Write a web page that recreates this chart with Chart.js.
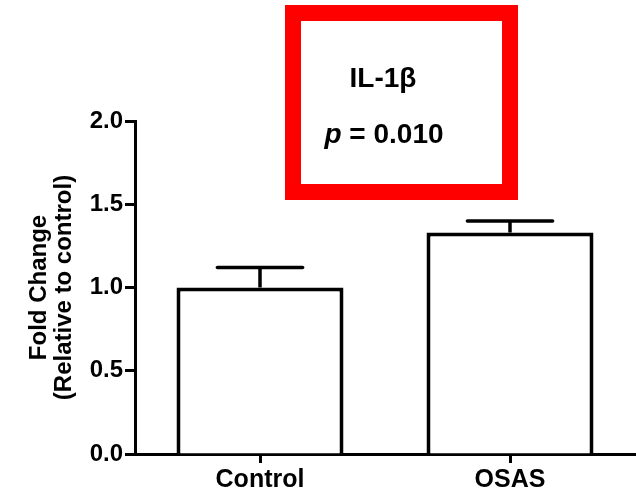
<!DOCTYPE html>
<html>
<head>
<meta charset="utf-8">
<style>
  html, body { margin: 0; padding: 0; background: #fff; }
  #wrap { width: 636px; height: 496px; }
</style>
<script src="https://cdn.jsdelivr.net/npm/chart.js"></script>
</head>
<body>
<div id="wrap"><canvas id="chart-il1b" width="636" height="496"></canvas></div>
<script>
const groups = ["Control", "OSAS"];
const foldChange = [1.00, 1.33];
const semUpper = [0.12, 0.07];
const yTicks = [0, 0.5, 1.0, 1.5, 2.0];
const markerName = "IL-1β";
const pValue = "0.010";

const FONT = "Arial, 'Liberation Sans', sans-serif";

// upward-only SEM whiskers on top of each bar
const errorBars = {
  id: "errorBars",
  afterDatasetsDraw(chart) {
    const { ctx, scales } = chart;
    const meta = chart.getDatasetMeta(0);
    ctx.save();
    ctx.strokeStyle = "#000";
    ctx.lineWidth = 3.5;
    meta.data.forEach((bar, i) => {
      const x = bar.x;
      const yTop = scales.y.getPixelForValue(foldChange[i]);
      const yErr = scales.y.getPixelForValue(foldChange[i] + semUpper[i]);
      const half = bar.width * 0.255;
      ctx.lineCap = "butt";
      ctx.beginPath();
      ctx.moveTo(x, yTop);
      ctx.lineTo(x, yErr);
      ctx.stroke();
      ctx.lineCap = "round";
      ctx.beginPath();
      ctx.moveTo(x - half, yErr);
      ctx.lineTo(x + half, yErr);
      ctx.stroke();
    });
    ctx.restore();
  }
};

// red framed label with the marker name and p value
const statBox = {
  id: "statBox",
  afterDraw(chart) {
    const { ctx } = chart;
    const bold = "bold 28px " + FONT;
    const italic = "italic bold 28px " + FONT;
    ctx.save();
    ctx.strokeStyle = "#ff0000";
    ctx.lineWidth = 16;
    ctx.strokeRect(293, 13, 217, 179);
    ctx.fillStyle = "#000";
    ctx.textBaseline = "alphabetic";
    ctx.textAlign = "center";
    ctx.font = bold;
    ctx.fillText(markerName, 383, 87);

    const rest = " = " + pValue;
    ctx.font = italic;
    const pW = ctx.measureText("p").width;
    ctx.font = bold;
    const rW = ctx.measureText(rest).width;
    const x0 = 384 - (pW + rW) / 2;
    ctx.textAlign = "left";
    ctx.font = italic;
    ctx.fillText("p", x0, 143);
    ctx.font = bold;
    ctx.fillText(rest, x0 + pW, 143);
    ctx.restore();
  }
};

const canvas = document.getElementById("chart-il1b");
new Chart(canvas.getContext("2d"), {
  type: "bar",
  data: {
    labels: groups,
    datasets: [{
      data: foldChange,
      backgroundColor: "#fff",
      borderColor: "#000",
      borderWidth: 4,
      borderSkipped: "bottom",
      categoryPercentage: 1.0,
      barPercentage: 0.668
    }]
  },
  options: {
    responsive: false,
    animation: false,
    layout: { padding: { top: 121, right: 1, left: 0, bottom: 0 } },
    plugins: { legend: { display: false }, tooltip: { enabled: false } },
    scales: {
      x: {
        offset: true,
        grid: {
          offset: false,
          drawOnChartArea: false,
          tickLength: 9,
          tickWidth: 3,
          tickColor: "#000"
        },
        border: { color: "#000", width: 3 },
        ticks: {
          color: "#000",
          padding: 2,
          font: { family: FONT, size: 25, weight: "bold" }
        },
        afterFit(scale) { scale.height = 42; }
      },
      y: {
        min: 0,
        max: 2,
        afterBuildTicks(scale) { scale.ticks = yTicks.map(v => ({ value: v })); },
        grid: {
          drawOnChartArea: false,
          tickLength: 10,
          tickWidth: 3,
          tickColor: "#000"
        },
        border: { color: "#000", width: 3 },
        ticks: {
          color: "#000",
          padding: 2,
          font: { family: FONT, size: 24, weight: "bold" },
          callback: v => Number(v).toFixed(1)
        },
        title: {
          display: true,
          text: ["Fold Change", "(Relative to control)"],
          color: "#000",
          padding: { top: 27, bottom: 0 },
          font: { family: FONT, size: 24, weight: "bold", lineHeight: 1.05 }
        },
        afterFit(scale) { scale.width = 135; }
      }
    }
  },
  plugins: [errorBars, statBox]
});
</script>
</body>
</html>
